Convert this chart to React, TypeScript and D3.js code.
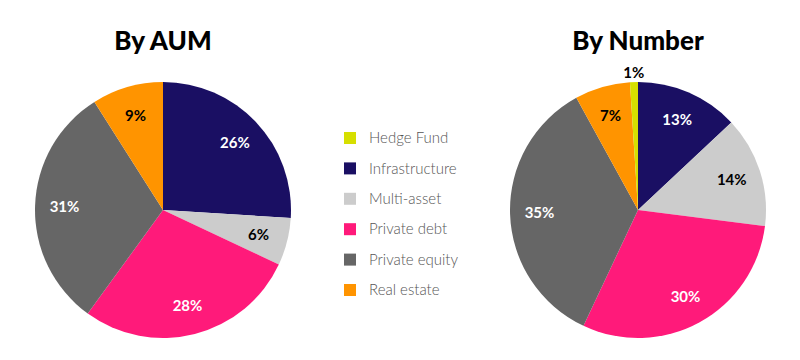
import { useEffect, useRef } from "react";
import * as d3 from "d3";

// categories and colours (legend order)
const categories = [
  "Hedge Fund",
  "Infrastructure",
  "Multi-asset",
  "Private debt",
  "Private equity",
  "Real estate",
];
const colors = ["#d6df00", "#1a0f63", "#cccccc", "#ff1a7a", "#666666", "#ff9400"];
const labelColors = ["#000", "#fff", "#000", "#fff", "#fff", "#000"];

// pie values, percent (drawn clockwise from 12 o'clock starting with Infrastructure)
const aumValues = [0, 26, 6, 28, 31, 9];
const numberValues = [1, 13, 14, 30, 35, 7];

const titles = ["By AUM", "By Number"];

const width = 800;
const height = 360;
const radius = 128;
const centers = [
  { x: 163, y: 210 },
  { x: 638, y: 210 },
];

// draw order: Infrastructure first, Hedge Fund last
const drawOrder = [1, 2, 3, 4, 5, 0];

function App() {
  const svgRef = useRef<SVGSVGElement>(null);

  useEffect(() => {
    const svg = d3.select(svgRef.current);
    svg.selectAll("*").remove();

    const pie = d3
      .pie<number>()
      .sort(null)
      .startAngle(0)
      .endAngle(2 * Math.PI);

    const arc = d3.arc<d3.PieArcDatum<number>>().innerRadius(0).outerRadius(radius);
    const labelArc = d3
      .arc<d3.PieArcDatum<number>>()
      .innerRadius(radius * 0.77)
      .outerRadius(radius * 0.77);
    const outerArc = d3
      .arc<d3.PieArcDatum<number>>()
      .innerRadius(radius + 9)
      .outerRadius(radius + 9);

    [aumValues, numberValues].forEach((vals, k) => {
      const g = svg
        .append("g")
        .attr("transform", `translate(${centers[k].x},${centers[k].y})`);

      const arcs = pie.value((i) => vals[i])(drawOrder).filter((d) => vals[d.data] > 0);

      g.selectAll("path")
        .data(arcs)
        .enter()
        .append("path")
        .attr("d", arc)
        .attr("fill", (d) => colors[d.data]);

      // small slices get their label just outside the rim
      g.selectAll("text.lbl")
        .data(arcs)
        .enter()
        .append("text")
        .attr("class", "lbl")
        .attr("transform", (d) => {
          const small = vals[d.data] < 3;
          const [x, y] = small ? outerArc.centroid(d) : labelArc.centroid(d);
          return `translate(${x},${y})`;
        })
        .attr("text-anchor", "middle")
        .attr("dy", "0.35em")
        .attr("font-family", "Lato, 'Noto Sans', sans-serif")
        .attr("font-weight", 700)
        .attr("font-size", 15)
        .attr("fill", (d) => (vals[d.data] < 3 ? "#000" : labelColors[d.data]))
        .text((d) => `${vals[d.data]}%`);

      svg
        .append("text")
        .attr("x", centers[k].x)
        .attr("y", 50)
        .attr("text-anchor", "middle")
        .attr("font-family", "Lato, 'Noto Sans', sans-serif")
        .attr("font-weight", 900)
        .attr("font-size", 26)
        .attr("fill", "#000")
        .text(titles[k]);
    });

    // legend
    const legendY = d3
      .scalePoint<string>()
      .domain(categories)
      .range([138, 290]);

    const legend = svg
      .append("g")
      .selectAll("g")
      .data(categories)
      .enter()
      .append("g")
      .attr("transform", (c) => `translate(344,${legendY(c)})`);

    legend
      .append("rect")
      .attr("x", 0)
      .attr("y", -6)
      .attr("width", 12)
      .attr("height", 12)
      .attr("fill", (c, i) => colors[i]);

    legend
      .append("text")
      .attr("x", 25)
      .attr("dy", "0.35em")
      .attr("font-family", "Lato, 'Noto Sans', sans-serif")
      .attr("font-weight", 300)
      .attr("font-size", 15)
      .attr("fill", "#555")
      .text((c) => c);
  }, []);

  return (
    <svg
      ref={svgRef}
      width={width}
      height={height}
      style={{ display: "block", position: "absolute", left: 0, top: 0, background: "#fff" }}
    ></svg>
  );
}

export default App;
